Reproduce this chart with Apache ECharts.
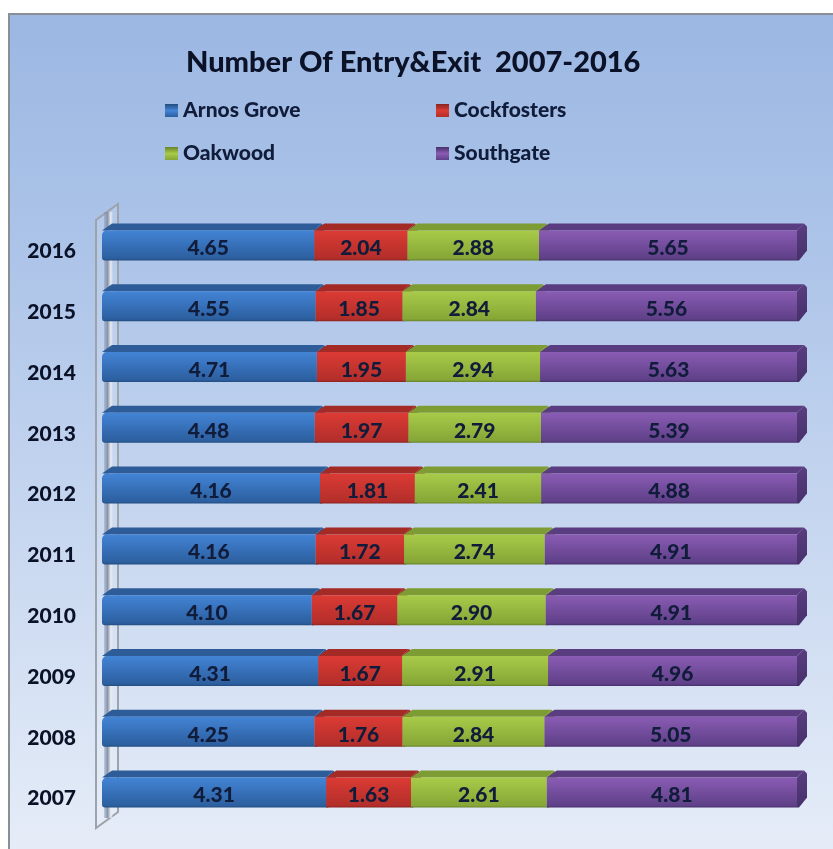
<!DOCTYPE html>
<html>
<head>
<meta charset="utf-8">
<style>
    html, body { margin: 0; padding: 0; background: #fff; }
    #myChart { width: 833px; height: 849px; }
</style>
<script src="https://cdn.jsdelivr.net/npm/echarts@6/dist/echarts.min.js"></script>
</head>
<body>
<div id="myChart"></div>
<script>
    var years = ['2007', '2008', '2009', '2010', '2011', '2012', '2013', '2014', '2015', '2016'];
    var arnosGrove = [4.31, 4.25, 4.31, 4.10, 4.16, 4.16, 4.48, 4.71, 4.55, 4.65];
    var cockfosters = [1.63, 1.76, 1.67, 1.67, 1.72, 1.81, 1.97, 1.95, 1.85, 2.04];
    var oakwood = [2.61, 2.84, 2.91, 2.90, 2.74, 2.41, 2.79, 2.94, 2.84, 2.88];
    var southgate = [4.81, 5.05, 4.96, 4.91, 4.91, 4.88, 5.39, 5.63, 5.56, 5.65];

    var seriesNames = ['Arnos Grove', 'Cockfosters', 'Oakwood', 'Southgate'];
    var seriesValues = [arnosGrove, cockfosters, oakwood, southgate];

    // front light, front dark, top face, end face
    var seriesColors = [
        ['#4384d6', '#2c5f9f', '#2d5c98', '#234c80'],
        ['#dc3b34', '#b32e2a', '#a42a26', '#8a2320'],
        ['#a9cb49', '#86a636', '#7d9c33', '#68832a'],
        ['#8a5cb4', '#5f4088', '#5a3d80', '#46306a']
    ];

    var fontName = 'Lato';
    var depthX = 10;
    var depthY = 7;

    function frontGradient(colors) {
        return new echarts.graphic.LinearGradient(0, 0, 0, 1, [
            { offset: 0, color: colors[0] },
            { offset: 0.93, color: colors[1] },
            { offset: 1, color: colors[3] }
        ]);
    }

    function legendIcon(colors) {
        return new echarts.graphic.LinearGradient(0, 0, 0, 1, [
            { offset: 0, color: colors[3] },
            { offset: 0.5, color: colors[0] },
            { offset: 1, color: colors[1] }
        ]);
    }

    // each row is [start share, end share, year index, real value]
    function buildRows(seriesIndex) {
        return years.map(function (year, i) {
            var total = 0, before = 0;
            seriesValues.forEach(function (list, k) {
                total += list[i];
                if (k < seriesIndex) before += list[i];
            });
            return [before / total, (before + seriesValues[seriesIndex][i]) / total, i, seriesValues[seriesIndex][i]];
        });
    }

    function renderSegment(seriesIndex) {
        return function (params, api) {
            var colors = seriesColors[seriesIndex];
            var start = api.coord([api.value(0), api.value(2)]);
            var end = api.coord([api.value(1), api.value(2)]);
            var x0 = start[0], x1 = end[0];
            var y0 = start[1] - 15, y1 = start[1] + 15;
            var bx = x1 + depthX, by0 = y0 - depthY, by1 = y1 - depthY;
            var children = [
                {
                    type: 'polygon',
                    // the far end is chamfered a little so it reads as rounded
                    shape: { points: [[x1, y0], [bx - 3, by0], [bx, by0 + 3], [bx, by1 - 3], [x1 + 2, y1], [x1, y1]] },
                    style: {
                        fill: new echarts.graphic.LinearGradient(0, 0, 0, 1, [
                            { offset: 0, color: colors[2] },
                            { offset: 1, color: colors[3] }
                        ])
                    }
                },
                {
                    type: 'polygon',
                    shape: { points: [[x0, y0], [x0 + depthX, by0], [bx - 3, by0], [x1, y0]] },
                    style: { fill: colors[2] }
                },
                {
                    type: 'rect',
                    shape: { x: x0, y: y0, width: x1 - x0, height: y1 - y0, r: seriesIndex === 0 ? [5, 0, 0, 3] : 0 },
                    style: { fill: frontGradient(colors) }
                },
                {
                    type: 'text',
                    style: {
                        x: (x0 + x1) / 2,
                        y: start[1] + 3,
                        text: api.value(3).toFixed(2),
                        fill: '#101c3a',
                        font: '900 21px ' + fontName,
                        align: 'center',
                        verticalAlign: 'middle'
                    }
                }
            ];
            return { type: 'group', children: children };
        };
    }

    var series = seriesNames.map(function (name, k) {
        return {
            name: name,
            type: 'custom',
            renderItem: renderSegment(k),
            encode: { x: [0, 1], y: 2 },
            itemStyle: { color: seriesColors[k][0] },
            data: buildRows(k)
        };
    });

    function legendData(indexes) {
        return indexes.map(function (k) {
            return { name: seriesNames[k], itemStyle: { color: legendIcon(seriesColors[k]) } };
        });
    }

    var legendCommon = {
        orient: 'vertical',
        top: 95,
        itemWidth: 13,
        itemHeight: 13,
        itemGap: 22,
        icon: 'rect',
        textStyle: { fontFamily: fontName, fontWeight: 900, fontSize: 21, color: '#101c3a', lineHeight: 20 }
    };

    var myChart = echarts.init(document.getElementById('myChart'), null, { renderer: 'canvas' });
    myChart.setOption({
        animation: false,
        title: {
            text: 'Number Of Entry&Exit  2007-2016',
            left: 181,
            top: 43,
            textStyle: { fontFamily: fontName, fontWeight: 900, fontSize: 29, color: '#0b1228' }
        },
        legend: [
            Object.assign({ left: 160, data: legendData([0, 2]) }, legendCommon),
            Object.assign({ left: 431, data: legendData([1, 3]) }, legendCommon)
        ],
        grid: { left: 102, top: 215, width: 695, height: 608 },
        xAxis: { type: 'value', min: 0, max: 1, show: false },
        yAxis: {
            type: 'category',
            data: years,
            axisLine: { show: false },
            axisTick: { show: false },
            axisLabel: {
                margin: 26,
                verticalAlign: 'top',
                lineHeight: 12,
                fontFamily: fontName,
                fontWeight: 900,
                fontSize: 21,
                color: '#0b1228'
            }
        },
        graphic: [
            {
                type: 'rect',
                z: -10,
                shape: { x: 9, y: 14, width: 830, height: 840 },
                style: {
                    fill: new echarts.graphic.LinearGradient(0, 0, 0, 1, [
                        { offset: 0, color: '#9bb7e2' },
                        { offset: 0.3, color: '#aec5e9' },
                        { offset: 1, color: '#e6edf8' }
                    ]),
                    stroke: '#8a8f96',
                    lineWidth: 2
                }
            },
            {
                type: 'polygon',
                z: -9,
                shape: { points: [[96, 220], [118, 204], [118, 812], [96, 828]] },
                style: { fill: 'rgba(255,255,255,0.12)', stroke: '#9da3aa', lineWidth: 2 }
            },
            {
                type: 'rect',
                z: -8,
                shape: { x: 104, y: 212, width: 9, height: 606 },
                style: {
                    fill: new echarts.graphic.LinearGradient(0, 0, 1, 0, [
                        { offset: 0, color: 'rgba(127,142,168,0.35)' },
                        { offset: 0.4, color: '#8794ac' },
                        { offset: 0.75, color: '#e9ecf2' },
                        { offset: 1, color: 'rgba(233,236,242,0)' }
                    ])
                }
            }
        ],
        series: series
    });
</script>
</body>
</html>
